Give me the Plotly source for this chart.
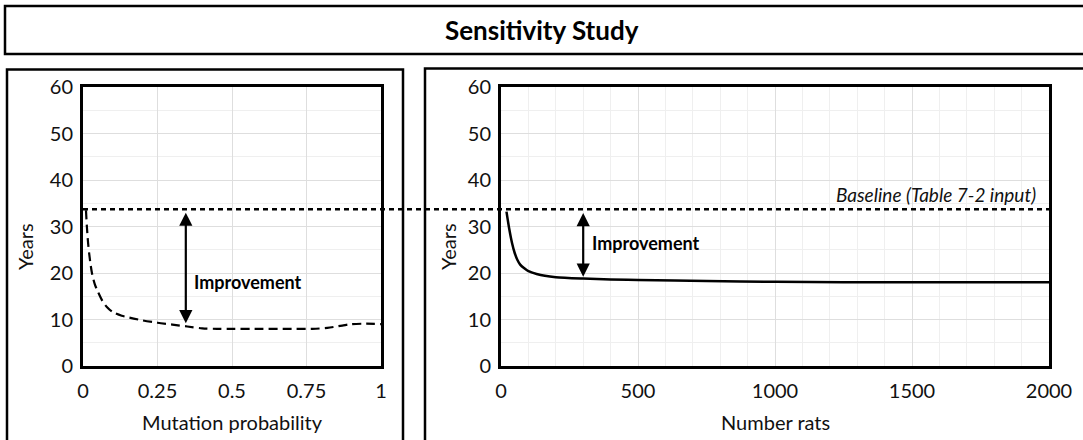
import plotly.graph_objects as go

W, H = 1083, 440

# ---- data ----
mut_prob = [0.01, 0.013, 0.017, 0.022, 0.03, 0.04, 0.05, 0.065, 0.08, 0.1, 0.13, 0.17, 0.2, 0.25,
            0.3, 0.35, 0.4, 0.45, 0.5, 0.6, 0.7, 0.77, 0.82, 0.87, 0.9, 0.95, 1.0]
mut_years = [33.5, 30.0, 26.5, 23.5, 20.0, 17.5, 16.0, 14.0, 12.7, 11.6, 10.8, 10.2, 9.8, 9.3,
             8.9, 8.5, 8.1, 8.0, 8.0, 8.0, 8.0, 8.0, 8.2, 8.7, 9.0, 9.1, 9.0]

rats_n = [20, 30, 40, 50, 60, 70, 85, 100, 130, 160, 200, 300, 400, 500, 750, 1000, 1250, 1500, 1750, 2000]
rats_years = [33.2, 29.5, 26.5, 24.3, 22.8, 21.8, 21.0, 20.4, 19.8, 19.4, 19.1, 18.8, 18.6, 18.5, 18.3, 18.1,
              18.0, 18.0, 18.0, 18.0]

baseline_years = 33.7
left_xticks = [0, 0.25, 0.5, 0.75, 1]
left_xticktext = ["0", "0.25", "0.5", "0.75", "1"]
right_xticks = [0, 500, 1000, 1500, 2000]
y_ticks = [0, 10, 20, 30, 40, 50, 60]

left_arrow = dict(x=0.345, top=33.3, bottom=9.2)
right_arrow = dict(x=300, top=33.2, bottom=19.2)

FONT = "Lato, 'Noto Sans', sans-serif"

def px_x(p):
    return p / W

def px_y(p):
    return 1 - p / H

fig = go.Figure()

fig.add_trace(go.Scatter(x=mut_prob, y=mut_years, mode="lines", xaxis="x", yaxis="y",
                         line=dict(color="black", width=2.2, dash="9px,5px", shape="spline", smoothing=0.8),
                         showlegend=False, hoverinfo="skip"))
fig.add_trace(go.Scatter(x=rats_n, y=rats_years, mode="lines", xaxis="x2", yaxis="y2",
                         line=dict(color="black", width=2.5, shape="spline", smoothing=0.8),
                         showlegend=False, hoverinfo="skip"))

ydom = [px_y(366), px_y(87)]
common_y = dict(range=[0, 60], tickvals=y_ticks, showline=True, linecolor="black", linewidth=3, mirror=True,
                showgrid=True, gridcolor="#dedede", gridwidth=1, zeroline=False, automargin=False,
                ticks="outside", ticklen=3, tickcolor="rgba(0,0,0,0)",
                tickfont=dict(family=FONT, size=20, color="#111"),
                minor=dict(dtick=5, showgrid=True, gridcolor="#efefef", gridwidth=1),
                fixedrange=True)
common_x = dict(showline=True, linecolor="black", linewidth=3, mirror=True, automargin=False,
                showgrid=True, gridcolor="#dedede", gridwidth=1, zeroline=False,
                ticks="outside", ticklen=5, tickcolor="rgba(0,0,0,0)",
                tickfont=dict(family=FONT, size=20, color="#111"), fixedrange=True)

fig.update_layout(
    width=W, height=H, autosize=False,
    margin=dict(l=0, r=0, t=0, b=0, pad=0, autoexpand=False),
    paper_bgcolor="white", plot_bgcolor="white",
    xaxis=dict(domain=[px_x(83), px_x(381)], range=[0, 1], tickvals=left_xticks, ticktext=left_xticktext,
               anchor="y", **common_x),
    yaxis=dict(domain=ydom, anchor="x", **common_y),
    xaxis2=dict(domain=[px_x(501), px_x(1049)], range=[0, 2000], tickvals=right_xticks,
                minor=dict(dtick=100, showgrid=True, gridcolor="#efefef", gridwidth=1),
                anchor="y2", **common_x),
    yaxis2=dict(domain=ydom, anchor="x2", **common_y),
)

shapes = []
# title box and panel frames
shapes.append(dict(type="rect", xref="paper", yref="paper", x0=px_x(5), x1=px_x(1095), y0=px_y(54), y1=px_y(6),
                   line=dict(color="black", width=2.5)))
shapes.append(dict(type="rect", xref="paper", yref="paper", x0=px_x(7), x1=px_x(403), y0=px_y(450), y1=px_y(69.5),
                   line=dict(color="black", width=2.5)))
shapes.append(dict(type="rect", xref="paper", yref="paper", x0=px_x(425), x1=px_x(1095), y0=px_y(450), y1=px_y(68.5),
                   line=dict(color="black", width=2.5)))
# baseline
shapes.append(dict(type="line", xref="paper", yref="y", x0=px_x(83), x1=px_x(1049), y0=baseline_years,
                   y1=baseline_years, line=dict(color="black", width=2.5, dash="5px,4px")))
fig.update_layout(shapes=shapes)

ann = []
ann.append(dict(text="<b>Sensitivity Study</b>", xref="paper", yref="paper", x=px_x(542), y=px_y(30),
                showarrow=False, font=dict(family=FONT, size=26, color="black"), xanchor="center", yanchor="middle"))
# axis titles
for xc, t in [(232, "Mutation probability"), (775, "Number rats")]:
    ann.append(dict(text=t, xref="paper", yref="paper", x=px_x(xc), y=px_y(422), showarrow=False,
                    font=dict(family=FONT, size=20, color="#111"), xanchor="center", yanchor="middle"))
for xc in [25, 448]:
    ann.append(dict(text="Years", xref="paper", yref="paper", x=px_x(xc), y=px_y(247), showarrow=False,
                    textangle=-90, font=dict(family=FONT, size=20, color="#111"), xanchor="center", yanchor="middle"))
# arrows
for a, xr, yr in [(left_arrow, "x", "y"), (right_arrow, "x2", "y2")]:
    ann.append(dict(text="", x=a["x"], y=a["bottom"], ax=a["x"], ay=a["top"], xref=xr, yref=yr,
                    axref=xr, ayref=yr, showarrow=True, arrowhead=2, startarrowhead=2, arrowside="end+start",
                    arrowsize=1.2, startarrowsize=1.2, arrowwidth=2.2, arrowcolor="black",
                    standoff=0, startstandoff=0))
ann.append(dict(text="<b>Improvement</b>", x=0.366, y=18.1, xref="x", yref="y", showarrow=False,
                xanchor="left", yanchor="middle", font=dict(family=FONT, size=18, color="black")))
ann.append(dict(text="<b>Improvement</b>", x=325, y=26.5, xref="x2", yref="y2", showarrow=False,
                xanchor="left", yanchor="middle", font=dict(family=FONT, size=18, color="black")))
ann.append(dict(text="<i>Baseline (Table 7-2 input)</i>", x=1960, y=baseline_years, yshift=1, xref="x2", yref="y2",
                showarrow=False, xanchor="right", yanchor="bottom", font=dict(family=FONT, size=19, color="#111")))
fig.update_layout(annotations=ann)

fig.write_html("out.html", config={"displayModeBar": False, "staticPlot": True},
               post_script="document.body.style.margin='0';document.body.style.overflow='hidden';")
